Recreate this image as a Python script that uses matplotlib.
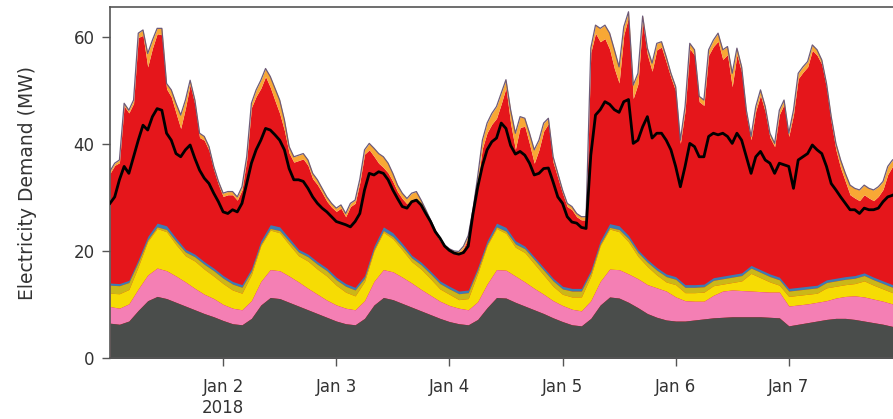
import numpy as np
import pandas as pd
import matplotlib
matplotlib.use("Agg")
import matplotlib.pyplot as plt

# ---------------------------------------------------------------------------
# hourly series, 2018-01-01 00:00 .. 2018-01-08 00:00 (169 points)
# ---------------------------------------------------------------------------
hours = pd.date_range("2018-01-01", periods=169, freq="h")

# top of the whole stack (MW)
total_top = [
    35.0, 36.5, 37.1, 47.7, 46.4, 48.3, 60.8, 61.4, 57.0, 59.5, 61.7, 61.7,   # Jan 1
    51.4, 50.2, 47.7, 45.5, 48.3, 52.0, 48.3, 42.1, 41.5, 39.6, 35.9, 33.1,
    30.9, 31.2, 31.2, 30.2, 32.1, 37.7, 47.7, 50.2, 52.0, 54.2, 52.7, 50.5,   # Jan 2
    48.3, 44.6, 39.6, 37.7, 38.0, 38.3, 37.1, 34.6, 33.4, 31.8, 30.2, 29.0,
    28.1, 28.7, 27.1, 29.0, 29.6, 33.5, 39.0, 40.2, 39.3, 38.3, 37.7, 36.5,   # Jan 3
    34.6, 32.4, 30.9, 29.9, 30.9, 31.2, 29.6, 27.8, 25.9, 24.0, 22.5, 21.2,
    20.5, 20.1, 20.0, 21.0, 23.0, 27.8, 34.0, 40.8, 44.0, 45.8, 47.1, 49.6,   # Jan 4
    52.1, 46.4, 42.1, 45.2, 44.9, 42.1, 39.0, 40.8, 44.0, 44.9, 37.7, 34.6,
    31.5, 29.0, 28.4, 27.1, 26.5, 26.5, 58.0, 62.3, 61.7, 62.3, 60.8, 57.7,   # Jan 5
    54.5, 62.0, 64.8, 51.1, 53.3, 64.0, 58.0, 55.2, 58.9, 59.2, 56.4, 53.3,
    50.8, 40.8, 47.1, 58.9, 57.7, 49.0, 48.3, 57.7, 59.5, 60.8, 57.7, 58.3,   # Jan 6
    53.3, 58.0, 54.5, 46.4, 41.5, 47.1, 50.2, 47.1, 42.1, 40.2, 46.4, 48.3,
    42.1, 46.4, 53.3, 54.5, 55.5, 58.6, 57.7, 55.8, 51.4, 45.2, 40.2, 37.1,   # Jan 7
    34.6, 32.4, 31.8, 31.5, 32.4, 31.8, 31.5, 32.1, 33.1, 35.9, 37.1, 37.6,
    38.0,
]

# thickness of the orange band just under the top (MW)
orange_band = [
    0.4, 0.4, 0.5, 0.5, 0.5, 0.6, 0.8, 1.0, 2.5, 1.5, 1.0, 1.2,
    1.0, 1.3, 1.8, 2.5, 1.5, 0.8, 0.8, 0.8, 0.7, 0.7, 0.6, 0.6,
    0.6, 0.6, 0.6, 0.6, 0.6, 0.6, 0.8, 1.2, 1.5, 1.5, 2.0, 2.3,
    2.5, 2.0, 1.2, 1.0, 1.0, 1.0, 1.0, 1.0, 0.9, 0.8, 0.8, 0.7,
    0.6, 0.6, 0.6, 0.6, 0.6, 0.6, 0.8, 1.2, 1.5, 1.8, 2.0, 1.8,
    1.5, 1.2, 1.0, 1.0, 1.2, 1.2, 1.0, 0.8, 0.6, 0.5, 0.5, 0.4,
    0.4, 0.4, 0.4, 0.4, 0.4, 0.6, 1.0, 1.5, 1.8, 2.0, 2.2, 2.0,
    1.5, 2.5, 3.0, 2.0, 1.5, 2.0, 2.5, 1.8, 1.5, 1.0, 1.0, 0.8,
    0.6, 0.6, 0.6, 0.6, 0.6, 0.6, 0.8, 1.5, 2.5, 2.5, 3.0, 3.5,
    3.0, 1.5, 1.0, 2.5, 2.0, 1.0, 1.2, 1.5, 1.2, 1.0, 1.0, 0.8,
    0.8, 0.6, 0.8, 1.0, 1.0, 1.0, 1.0, 1.0, 1.2, 1.5, 1.8, 1.5,
    2.5, 1.2, 1.0, 0.8, 0.6, 0.8, 1.0, 1.0, 0.8, 0.6, 0.8, 0.8,
    0.6, 0.8, 1.0, 1.0, 1.0, 1.0, 1.0, 0.8, 0.8, 1.0, 1.2, 1.5,
    1.5, 1.8, 1.8, 2.0, 1.8, 1.8, 2.0, 1.8, 1.5, 1.5, 1.2, 1.2,
    1.2,
]

# black demand line (MW)
demand_line = [
    29.0, 30.2, 33.4, 35.9, 34.6, 37.7, 40.8, 43.6, 42.7, 45.2, 46.7, 46.4,
    42.1, 40.8, 38.3, 37.7, 39.0, 39.9, 37.4, 35.2, 33.7, 32.7, 30.9, 29.3,
    27.4, 27.1, 27.8, 27.4, 29.0, 32.7, 36.5, 39.0, 40.8, 43.0, 42.7, 41.8,
    40.8, 39.0, 35.5, 33.4, 33.4, 33.1, 31.8, 30.2, 29.0, 28.1, 27.4, 26.5,
    25.6, 25.3, 25.0, 24.6, 25.6, 27.1, 31.5, 34.6, 34.3, 34.9, 34.6, 33.4,
    31.5, 29.9, 28.4, 28.1, 29.3, 29.6, 28.7, 27.1, 25.6, 23.7, 22.5, 21.0,
    20.2, 19.7, 19.5, 19.8, 21.0, 27.0, 32.0, 36.0, 39.0, 40.5, 41.2, 44.0,
    43.0, 39.8, 38.2, 38.7, 38.0, 36.5, 34.3, 34.6, 35.5, 35.6, 33.0, 30.2,
    29.0, 26.5, 25.5, 25.3, 24.5, 24.3, 38.0, 45.5, 46.5, 48.0, 47.5, 46.5,
    46.0, 48.0, 48.4, 40.2, 40.8, 43.3, 45.2, 41.2, 42.1, 42.1, 40.8, 39.0,
    35.9, 32.1, 35.9, 40.2, 39.6, 37.7, 37.7, 41.5, 42.1, 41.8, 42.1, 41.5,
    40.2, 42.1, 40.8, 37.7, 34.6, 37.7, 38.7, 37.1, 36.5, 34.6, 36.5, 36.2,
    35.9, 31.8, 37.1, 37.7, 38.3, 39.9, 39.0, 38.3, 35.9, 32.7, 31.5, 30.2,
    29.0, 27.8, 27.8, 27.1, 28.1, 27.8, 27.8, 28.1, 29.3, 30.2, 30.5, 31.0,
    31.2,
]

# ---------------------------------------------------------------------------
# two-hourly cumulative tops of the lower layers (85 points)
# ---------------------------------------------------------------------------
steps = pd.date_range("2018-01-01", periods=85, freq="2h")

grey_top = [
    6.6, 6.4, 7.0, 9.0, 10.8, 11.6, 11.2, 10.5, 9.8, 9.1, 8.4, 7.8,
    7.1, 6.5, 6.3, 7.5, 10.0, 11.4, 11.2, 10.5, 9.8, 9.1, 8.4, 7.7,
    7.0, 6.5, 6.3, 7.5, 10.0, 11.4, 11.0, 10.3, 9.6, 8.9, 8.2, 7.5,
    6.9, 6.5, 6.3, 7.3, 9.5, 11.4, 11.3, 10.5, 9.8, 9.1, 8.4, 7.6,
    6.9, 6.3, 6.1, 7.5, 10.0, 11.5, 11.3, 10.5, 9.5, 8.4, 7.7, 7.2,
    7.0, 7.0, 7.2, 7.4, 7.6, 7.7, 7.8, 7.8, 7.8, 7.8, 7.7, 7.6,
    6.1, 6.4, 6.7, 7.0, 7.3, 7.5, 7.5, 7.3, 7.0, 6.7, 6.4, 6.0, 5.9,
]

pink_top = [
    9.7, 9.4, 10.2, 13.0, 15.6, 16.9, 16.4, 15.4, 14.3, 13.1, 12.0, 11.2,
    10.1, 9.4, 9.1, 10.8, 14.4, 16.6, 16.4, 15.4, 14.3, 13.1, 12.0, 10.9,
    10.0, 9.4, 9.1, 10.8, 14.4, 16.6, 16.2, 15.2, 14.1, 12.9, 11.8, 10.7,
    9.9, 9.4, 9.1, 10.6, 13.9, 16.6, 16.5, 15.4, 14.3, 13.1, 12.0, 10.8,
    9.9, 9.2, 8.9, 10.8, 14.4, 16.7, 16.6, 15.8, 14.9, 13.8, 13.2, 12.6,
    11.5, 10.8, 10.7, 10.7, 11.8, 12.6, 12.8, 12.7, 12.6, 12.5, 12.4, 12.4,
    9.8, 10.0, 10.2, 10.5, 10.8, 11.3, 11.6, 11.7, 11.5, 11.1, 10.7, 10.2, 10.0,
]

yellow_top = [
    12.2, 12.1, 12.9, 17.2, 21.9, 24.3, 23.7, 21.3, 19.2, 18.2, 16.7, 15.4,
    14.0, 12.8, 12.2, 15.7, 21.1, 24.0, 23.5, 21.3, 19.2, 18.2, 16.7, 15.4,
    13.7, 12.4, 11.7, 14.4, 20.1, 23.6, 22.4, 20.3, 18.1, 16.7, 14.9, 13.0,
    12.0, 11.0, 11.2, 15.9, 21.1, 24.3, 23.4, 20.8, 19.8, 17.7, 15.6, 13.5,
    12.0, 11.5, 11.5, 15.4, 21.1, 24.2, 23.7, 21.8, 19.1, 17.2, 15.6, 14.3,
    13.8, 12.3, 12.3, 12.4, 13.6, 13.9, 14.2, 14.5, 15.9, 15.1, 14.3, 13.7,
    11.6, 11.8, 12.0, 12.2, 13.2, 13.5, 13.8, 14.0, 14.5, 13.7, 13.0, 12.3, 12.0,
]

olive_top = [
    13.7, 13.6, 14.2, 18.0, 22.2, 24.6, 24.1, 21.9, 19.9, 19.0, 17.6, 16.4,
    15.0, 13.9, 13.3, 16.3, 21.4, 24.3, 23.9, 21.9, 19.9, 19.0, 17.6, 16.4,
    14.7, 13.5, 12.8, 15.0, 20.4, 23.9, 22.8, 20.9, 18.8, 17.5, 15.8, 14.0,
    13.0, 12.1, 12.3, 16.5, 21.4, 24.6, 23.8, 21.4, 20.5, 18.5, 16.5, 14.5,
    13.0, 12.6, 12.6, 16.0, 21.4, 24.5, 24.1, 22.4, 19.8, 18.0, 16.5, 15.3,
    14.8, 13.3, 13.3, 13.4, 14.6, 14.9, 15.2, 15.5, 16.9, 16.1, 15.3, 14.7,
    12.6, 12.8, 13.0, 13.2, 14.2, 14.5, 14.8, 15.0, 15.5, 14.7, 14.0, 13.3, 13.0,
]

blue_top = [
    14.1, 14.0, 14.6, 18.5, 22.8, 25.3, 24.8, 22.5, 20.4, 19.5, 18.1, 16.9,
    15.5, 14.4, 13.8, 16.8, 22.0, 25.0, 24.6, 22.5, 20.4, 19.5, 18.1, 16.9,
    15.2, 14.0, 13.3, 15.5, 21.0, 24.6, 23.5, 21.5, 19.3, 18.0, 16.3, 14.5,
    13.5, 12.6, 12.8, 17.0, 22.0, 25.3, 24.5, 22.0, 21.0, 19.0, 17.0, 15.0,
    13.5, 13.1, 13.1, 16.5, 22.0, 25.2, 24.8, 23.0, 20.3, 18.5, 17.0, 15.8,
    15.3, 13.8, 13.8, 13.9, 15.1, 15.4, 15.7, 16.0, 17.4, 16.6, 15.8, 15.2,
    13.1, 13.3, 13.5, 13.7, 14.7, 15.0, 15.3, 15.5, 16.0, 15.2, 14.5, 13.8, 13.5,
]

tick_days = ["2018-01-02", "2018-01-03", "2018-01-04",
             "2018-01-05", "2018-01-06", "2018-01-07"]
tick_labels = ["Jan 2\n2018", "Jan 3", "Jan 4", "Jan 5", "Jan 6", "Jan 7"]

COLORS = {
    "grey": "#4a4d4b",
    "pink": "#f47fb4",
    "yellow": "#f6dc04",
    "olive": "#cbb718",
    "blue": "#3d7cb4",
    "red": "#e5161b",
    "orange": "#f8a835",
    "purple": "#6d5a78",
}


def main():
    total = np.array(total_top)
    red_top = total - np.array(orange_band)

    fig = plt.figure(figsize=(8.93, 4.19), dpi=100)
    ax = fig.add_axes([110 / 893, 0.1444, 791.9 / 893, 0.839])

    # upper part on the hourly grid
    ax.fill_between(hours, 0, red_top, color=COLORS["red"], lw=0)
    ax.fill_between(hours, red_top, total, color=COLORS["orange"], lw=0)
    ax.plot(hours, total, color=COLORS["purple"], lw=0.9)

    # lower stacked layers on the two-hourly grid
    layers = [
        (blue_top, olive_top, "blue"),
        (olive_top, yellow_top, "olive"),
        (yellow_top, pink_top, "yellow"),
        (pink_top, grey_top, "pink"),
    ]
    for top, bottom, name in layers:
        ax.fill_between(steps, bottom, top, color=COLORS[name], lw=0)
    ax.fill_between(steps, 0, grey_top, color=COLORS["grey"], lw=0)

    ax.plot(hours, demand_line, color="black", lw=2.0, zorder=5)

    ax.set_xlim(pd.Timestamp("2018-01-01"), pd.Timestamp("2018-01-08"))
    ax.set_ylim(0, 65.7)
    ax.set_yticks([0, 20, 40, 60])
    ax.set_xticks(pd.to_datetime(tick_days))
    ax.set_xticklabels(tick_labels)

    for side in ["left", "top", "bottom"]:
        ax.spines[side].set_color("#555555")
        ax.spines[side].set_linewidth(1.2)
    ax.spines["right"].set_visible(False)

    ax.tick_params(axis="both", direction="out", length=6, width=1,
                   color="#555555", labelsize=12, labelcolor="#333333", pad=5)
    ax.tick_params(axis="x", pad=8)
    ax.set_ylabel("Electricity Demand (MW)", fontsize=13.5, color="#333333")
    ax.yaxis.set_label_coords(-0.092, 0.5)

    fig.savefig("out.png", dpi=100)
    plt.close(fig)


if __name__ == "__main__":
    main()
